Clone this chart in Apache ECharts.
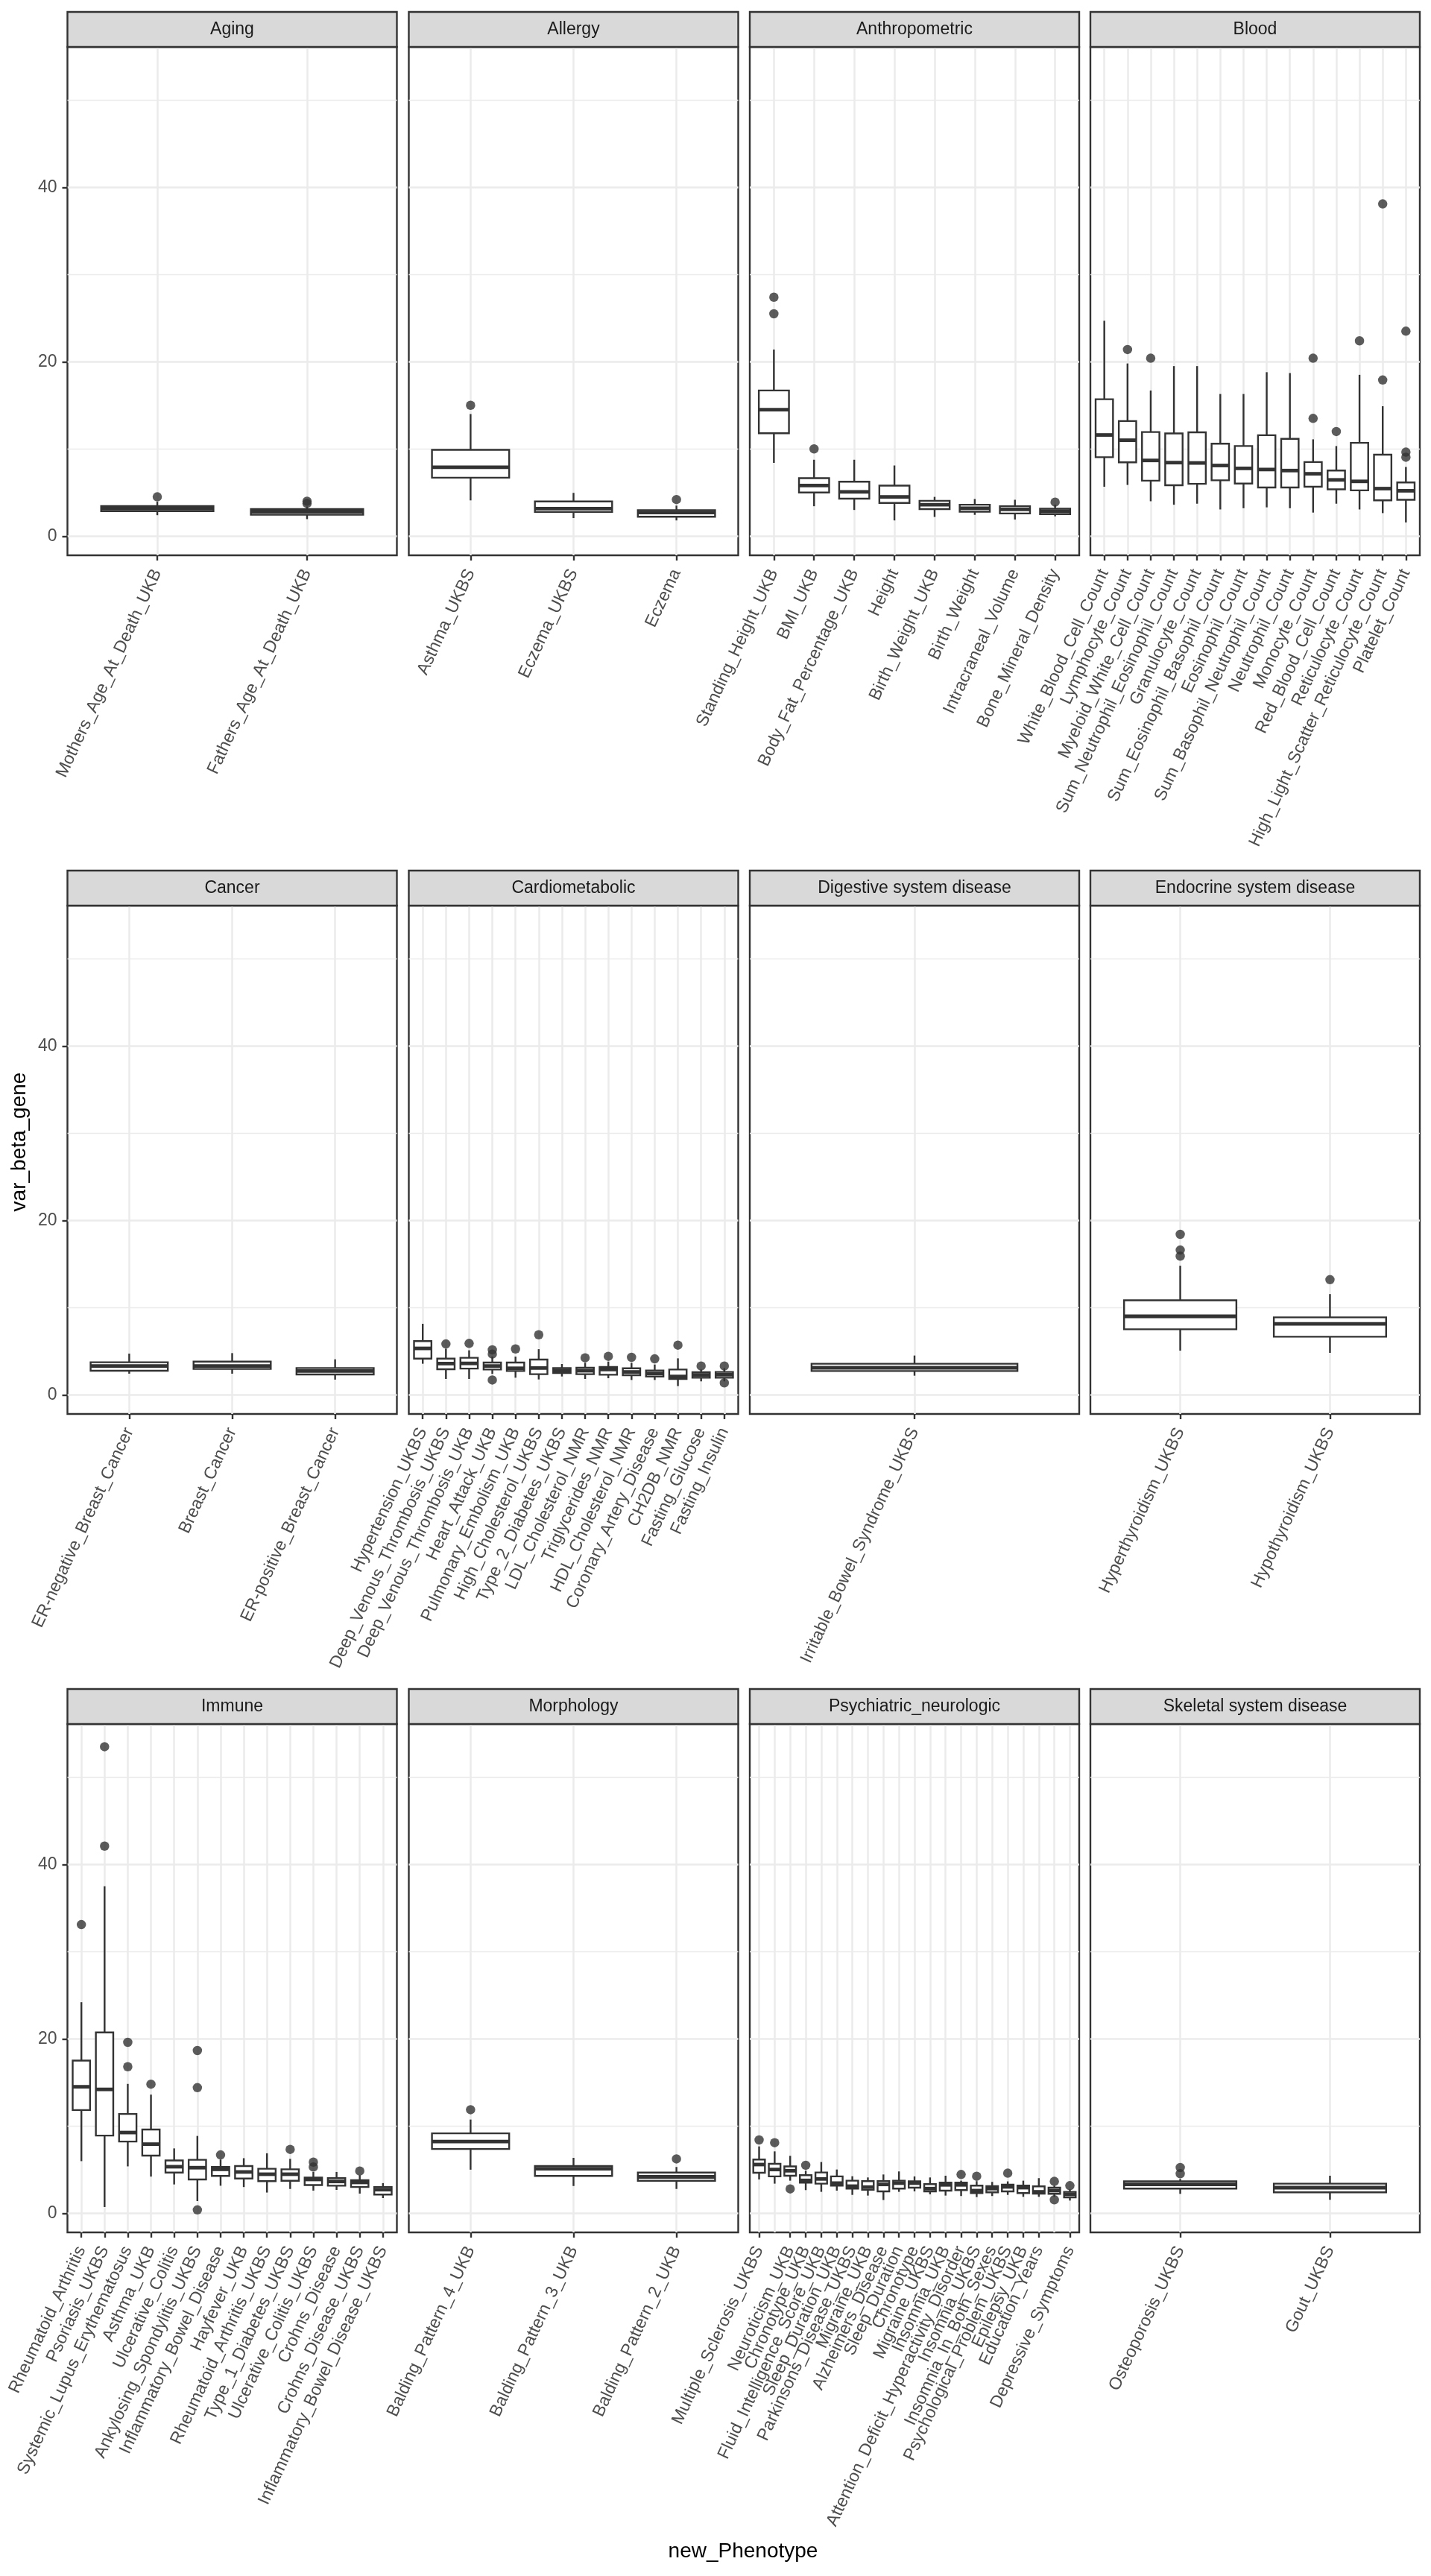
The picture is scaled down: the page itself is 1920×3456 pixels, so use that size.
<!DOCTYPE html>
<html><head><meta charset="utf-8">
<script src="https://cdn.jsdelivr.net/npm/echarts@6/dist/echarts.min.js"></script>
<style>html,body{margin:0;padding:0;background:#fff}#chart{width:1920px;height:3456px}</style>
</head><body><div id="chart"></div>
<script>
// ---------- DATA ----------
// box rows: [lower whisker, Q1, median, Q3, upper whisker]; outliers: [category index, value]
const facetNames = ['Aging','Allergy','Anthropometric','Blood','Cancer','Cardiometabolic','Digestive system disease','Endocrine system disease','Immune','Morphology','Psychiatric_neurologic','Skeletal system disease'];

const agingCats = ['Mothers_Age_At_Death_UKB','Fathers_Age_At_Death_UKB'];
const agingBox = [[2.4,2.85,3.15,3.45,3.95],[1.95,2.45,2.8,3.1,3.4]];
const agingOut = [[0,4.5],[1,4.0],[1,3.75]];

const allergyCats = ['Asthma_UKBS','Eczema_UKBS','Eczema'];
const allergyBox = [[4.1,6.7,7.9,9.9,14.0],[2.07,2.77,3.15,3.97,4.96],[1.8,2.23,2.7,2.98,3.5]];
const allergyOut = [[0,15.0],[2,4.2]];

const anthroCats = ['Standing_Height_UKB','BMI_UKB','Body_Fat_Percentage_UKB','Height','Birth_Weight_UKB','Birth_Weight','Intracraneal_Volume','Bone_Mineral_Density'];
const anthroBox = [[8.4,11.8,14.5,16.7,21.4],[3.43,5.0,5.8,6.65,8.76],[3.0,4.3,5.08,6.24,8.76],[1.8,3.8,4.5,5.79,8.1],[2.2,3.1,3.6,4.05,4.5],[2.44,2.8,3.2,3.6,4.26],[1.9,2.6,3.06,3.43,4.17],[2.27,2.52,2.85,3.14,3.6]];
const anthroOut = [[0,27.4],[0,25.5],[1,10.0],[7,3.9]];

const bloodCats = ['White_Blood_Cell_Count','Lymphocyte_Count','Myeloid_White_Cell_Count','Sum_Neutrophil_Eosinophil_Count','Granulocyte_Count','Sum_Eosinophil_Basophil_Count','Eosinophil_Count','Sum_Basophil_Neutrophil_Count','Neutrophil_Count','Monocyte_Count','Red_Blood_Cell_Count','Reticulocyte_Count','High_Light_Scatter_Reticulocyte_Count','Platelet_Count'];
const bloodBox = [[5.66,9.05,11.6,15.7,24.7],[5.87,8.47,11.0,13.2,19.8],[4.0,6.36,8.68,11.94,16.7],[3.6,5.83,8.43,11.78,19.5],[3.72,6.0,8.39,11.9,19.5],[3.06,6.4,8.1,10.6,16.3],[3.2,6.03,7.77,10.33,16.3],[3.3,5.58,7.64,11.57,18.8],[3.2,5.58,7.52,11.16,18.7],[2.7,5.66,7.15,8.5,11.1],[3.72,5.37,6.45,7.52,10.33],[3.06,5.25,6.28,10.7,18.5],[2.64,4.1,5.45,9.34,14.9],[1.57,4.17,5.2,6.16,7.93]];
const bloodOut = [[1,21.4],[2,20.4],[9,20.4],[9,13.5],[10,12.0],[11,22.4],[12,38.1],[12,17.9],[13,23.5],[13,9.63],[13,9.05]];

const cancerCats = ['ER-negative_Breast_Cancer','Breast_Cancer','ER-positive_Breast_Cancer'];
const cancerBox = [[2.42,2.76,3.3,3.73,4.72],[2.42,2.96,3.3,3.81,4.78],[1.74,2.33,2.73,3.07,4.07]];
const cancerOut = [];

const cardioCats = ['Hypertension_UKBS','Deep_Venous_Thrombosis_UKBS','Deep_Venous_Thrombosis_UKB','Heart_Attack_UKB','Pulmonary_Embolism_UKB','High_Cholesterol_UKBS','Type_2_Diabetes_UKBS','LDL_Cholesterol_NMR','Triglycerides_NMR','HDL_Cholesterol_NMR','Coronary_Artery_Disease','CH2DB_NMR','Fasting_Glucose','Fasting_Insulin'];
const cardioBox = [[3.56,4.15,5.32,6.15,8.14],[1.82,2.93,3.58,4.15,5.29],[1.82,3.0,3.6,4.24,5.1],[2.39,2.9,3.3,3.7,4.38],[1.96,2.73,3.04,3.7,4.38],[1.76,2.36,3.07,4.04,5.23],[2.1,2.5,2.79,3.07,3.53],[1.82,2.36,2.76,3.1,3.67],[1.9,2.3,2.9,3.19,3.81],[1.7,2.25,2.62,3.04,3.67],[1.7,2.1,2.45,2.79,3.47],[1.0,1.82,2.1,2.9,4.18],[1.54,1.96,2.28,2.59,2.9],[1.54,1.96,2.3,2.62,3.05]];
const cardioOut = [[1,5.83],[2,5.89],[3,5.15],[3,4.67],[3,1.7],[4,5.26],[5,6.88],[7,4.24],[8,4.41],[9,4.3],[10,4.12],[11,5.69],[12,3.3],[13,3.3],[13,1.37]];

const digestCats = ['Irritable_Bowel_Syndrome_UKBS'];
const digestBox = [[2.19,2.73,3.1,3.56,4.5]];
const digestOut = [];

const endoCats = ['Hyperthyroidism_UKBS','Hypothyroidism_UKBS'];
const endoBox = [[5.06,7.51,9.0,10.84,14.8],[4.81,6.66,8.14,8.88,11.55]];
const endoOut = [[0,18.4],[0,16.6],[0,15.9],[1,13.2]];

const immuneCats = ['Rheumatoid_Arthritis','Psoriasis_UKBS','Systemic_Lupus_Erythematosus','Asthma_UKB','Ulcerative_Colitis','Ankylosing_Spondylitis_UKBS','Inflammatory_Bowel_Disease','Hayfever_UKB','Rheumatoid_Arthritis_UKBS','Type_1_Diabetes_UKBS','Ulcerative_Colitis_UKBS','Crohns_Disease','Crohns_Disease_UKBS','Inflammatory_Bowel_Disease_UKBS'];
const immuneBox = [[5.97,11.83,14.5,17.5,24.2],[0.71,8.9,14.2,20.73,37.5],[5.37,8.22,9.25,11.38,14.83],[4.2,6.6,7.92,9.6,13.6],[3.3,4.66,5.33,6.05,7.43],[1.39,3.87,5.22,6.12,8.86],[3.15,4.28,5.03,5.3,6.16],[3.0,3.98,4.73,5.41,6.31],[2.37,3.68,4.47,5.1,6.87],[2.78,3.72,4.47,5.03,6.23],[2.59,3.23,3.87,4.09,4.73],[2.67,3.15,3.64,4.02,4.73],[2.25,3.0,3.53,3.79,4.36],[1.73,2.14,2.7,3.0,3.45]];
const immuneOut = [[0,33.1],[1,53.5],[1,42.1],[2,19.6],[2,16.8],[3,14.8],[5,18.66],[5,14.4],[5,0.38],[6,6.68],[9,7.32],[10,5.86],[10,5.3],[12,4.84]];

const morphCats = ['Balding_Pattern_4_UKB','Balding_Pattern_3_UKB','Balding_Pattern_2_UKB'];
const morphBox = [[4.99,7.36,8.22,9.16,10.74],[3.12,4.28,5.1,5.41,6.35],[2.78,3.72,4.17,4.66,5.3]];
const morphOut = [[0,11.87],[2,6.23]];

const psychCats = ['Multiple_Sclerosis_UKBS','Schizophrenia','Neuroticism_UKB','Chronotype_UKB','Fluid_Intelligence_Score_UKB','Sleep_Duration_UKB','Parkinsons_Disease_UKBS','Migraine_UKB','Alzheimers_Disease','Sleep_Duration','Chronotype','Migraine_UKBS','Insomnia_UKB','Attention_Deficit_Hyperactivity_Disorder','Insomnia_UKBS','Insomnia_In_Both_Sexes','Psychological_Problem_UKBS','Epilepsy_UKB','Education_Years','Schizophrenia_UKBS','Depressive_Symptoms'];
const psychBox = [[3.87,4.64,5.58,6.15,7.66],[3.39,4.22,5.01,5.67,7.09],[3.73,4.3,4.87,5.36,6.58],[2.65,3.5,3.76,4.36,4.87],[2.45,3.39,3.93,4.67,5.87],[2.59,3.16,3.45,4.22,5.01],[2.1,2.82,3.1,3.73,4.24],[2.02,2.68,2.99,3.68,4.1],[1.51,2.5,3.3,3.68,4.44],[2.45,2.82,3.45,3.73,4.79],[2.5,2.93,3.45,3.65,4.22],[2.17,2.5,2.82,3.33,4.1],[2.02,2.59,3.25,3.5,4.3],[1.97,2.65,3.25,3.5,3.73],[1.85,2.31,2.59,3.16,3.68],[1.97,2.39,2.82,3.1,3.59],[2.1,2.5,3.02,3.28,3.65],[1.88,2.31,2.93,3.16,3.73],[1.88,2.25,2.45,3.08,4.02],[1.88,2.22,2.59,2.93,3.16],[1.45,1.82,2.17,2.45,2.73]];
const psychOut = [[0,8.4],[1,8.09],[2,2.79],[3,5.5],[13,4.44],[14,4.24],[16,4.59],[19,3.65],[19,1.54],[20,3.16]];

const skelCats = ['Osteoporosis_UKBS','Gout_UKBS'];
const skelBox = [[2.22,2.82,3.3,3.65,3.93],[1.54,2.39,2.93,3.39,4.3]];
const skelOut = [[0,5.24],[0,4.53]];

const yMajorTicks = [0, 20, 40];
const yMinorTicks = [10, 30, 50];

// ---------- LAYOUT ----------
const panels = [
  [agingCats, agingBox, agingOut], [allergyCats, allergyBox, allergyOut], [anthroCats, anthroBox, anthroOut], [bloodCats, bloodBox, bloodOut],
  [cancerCats, cancerBox, cancerOut], [cardioCats, cardioBox, cardioOut], [digestCats, digestBox, digestOut], [endoCats, endoBox, endoOut],
  [immuneCats, immuneBox, immuneOut], [morphCats, morphBox, morphOut], [psychCats, psychBox, psychOut], [skelCats, skelBox, skelOut]
];
const colLeft = [90.5, 548.5, 1006, 1463];
const panelW = 442;
const plotTop = [63, 1215, 2313];
const plotH = 682;
const stripH = 47;
const Y_MIN = -2.2, Y_MAX = 56.1;
const FONT = "'Liberation Sans', Arial, Helvetica, sans-serif";
const DARK = '#333333';

const grids = [], xAxes = [], yAxes = [], series = [], graphics = [];

function renderBox(params, api) {
  const x = api.value(0);
  const lo = api.coord([x, api.value(1)]);
  const q1 = api.coord([x, api.value(2)]);
  const md = api.coord([x, api.value(3)]);
  const q3 = api.coord([x, api.value(4)]);
  const hi = api.coord([x, api.value(5)]);
  const hw = api.size([0.75, 0])[0] / 2;
  const cx = lo[0];
  const st = {stroke: DARK, lineWidth: 2.4};
  return {type: 'group', children: [
    {type: 'line', shape: {x1: cx, y1: q3[1], x2: cx, y2: hi[1]}, style: st},
    {type: 'line', shape: {x1: cx, y1: q1[1], x2: cx, y2: lo[1]}, style: st},
    {type: 'rect', shape: {x: cx - hw, y: q3[1], width: 2 * hw, height: q1[1] - q3[1]}, style: {fill: '#ffffff', stroke: DARK, lineWidth: 2.4}},
    {type: 'line', shape: {x1: cx - hw, y1: md[1], x2: cx + hw, y2: md[1]}, style: {stroke: DARK, lineWidth: 4.8}}
  ]};
}

panels.forEach((p, i) => {
  const [cats, box, out] = p;
  const r = Math.floor(i / 4), c = i % 4;
  const n = cats.length;
  const ticks = cats.map((_, k) => k + 1);
  grids.push({left: colLeft[c], top: plotTop[r], width: panelW, height: plotH, show: true,
    backgroundColor: '#ffffff', borderColor: DARK, borderWidth: 2.4, containLabel: false, outerBoundsMode: 'none'});
  xAxes.push({type: 'value', gridIndex: i, min: 0.4, max: n + 0.6, position: 'bottom',
    axisLine: {show: false, onZero: false},
    axisTick: {show: true, customValues: ticks, length: 7, lineStyle: {color: DARK, width: 2.4}},
    axisLabel: {customValues: ticks, rotate: 65, margin: 20, fontSize: 23, color: '#4D4D4D', fontFamily: FONT,
      showMinLabel: true, showMaxLabel: true, hideOverlap: false,
      formatter: v => cats[Math.round(v) - 1] || ''},
    splitLine: {show: true, lineStyle: {color: '#EBEBEB', width: 2.5}}
  });
  yAxes.push({type: 'value', gridIndex: i, min: Y_MIN, max: Y_MAX, position: 'left',
    axisLine: {show: false, onZero: false},
    axisTick: {show: c === 0, customValues: yMajorTicks, length: 7, lineStyle: {color: DARK, width: 2.4}},
    axisLabel: {show: c === 0, customValues: yMajorTicks, margin: 14, fontSize: 23, color: '#4D4D4D', fontFamily: FONT,
      showMinLabel: true, showMaxLabel: true},
    splitLine: {show: true, lineStyle: {color: '#EBEBEB', width: 2.6}}
  });
  const majorY = yAxes.length - 1;
  yAxes.push({type: 'value', gridIndex: i, min: Y_MIN, max: Y_MAX, position: 'left',
    axisLine: {show: false, onZero: false},
    axisTick: {show: false, customValues: yMinorTicks},
    axisLabel: {show: false, customValues: yMinorTicks},
    splitLine: {show: true, lineStyle: {color: '#EBEBEB', width: 1.4}}
  });
  series.push({type: 'custom', xAxisIndex: i, yAxisIndex: majorY, z: 3, silent: true,
    renderItem: renderBox, encode: {x: 0, y: [1, 2, 3, 4, 5]},
    data: box.map((b, k) => [k + 1].concat(b))});
  series.push({type: 'scatter', xAxisIndex: i, yAxisIndex: majorY, z: 4, silent: true,
    symbol: 'circle', symbolSize: 12.5, itemStyle: {color: DARK},
    data: out.map(o => [o[0] + 1, o[1]])});
  // strip
  graphics.push({type: 'rect', x: colLeft[c], y: plotTop[r] - stripH, shape: {x: 0, y: 0, width: panelW, height: stripH},
    style: {fill: '#D9D9D9', stroke: DARK, lineWidth: 2.4}, z: 10});
  graphics.push({type: 'text', x: colLeft[c] + panelW / 2, y: plotTop[r] - stripH / 2, z: 11,
    style: {text: facetNames[i], fill: '#1A1A1A', font: '23px ' + FONT, textAlign: 'center', textVerticalAlign: 'middle'}});
});

graphics.push({type: 'text', x: 26, y: 1532, rotation: Math.PI / 2, z: 11,
  style: {text: 'var_beta_gene', fill: '#000000', font: '28px ' + FONT, textAlign: 'center', textVerticalAlign: 'middle'}});
graphics.push({type: 'text', x: 997, y: 3423, z: 11,
  style: {text: 'new_Phenotype', fill: '#000000', font: '28px ' + FONT, textAlign: 'center', textVerticalAlign: 'middle'}});

const chart = echarts.init(document.getElementById('chart'), null, {renderer: 'canvas', width: 1920, height: 3456});
chart.setOption({
  backgroundColor: '#ffffff',
  animation: false,
  grid: grids,
  xAxis: xAxes,
  yAxis: yAxes,
  series: series,
  graphic: {elements: graphics}
});
</script></body></html>
